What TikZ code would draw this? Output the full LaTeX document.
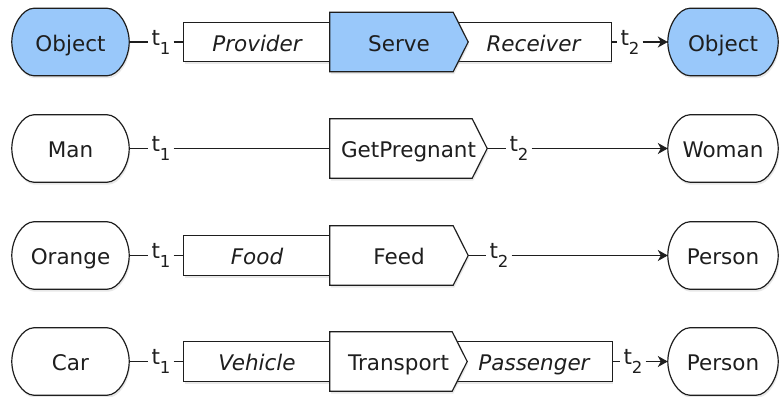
\documentclass[tikz,border=0pt]{standalone}
\usepackage{fontspec}
\setmainfont{DejaVu Sans}
\usetikzlibrary{arrows.meta,shadows,backgrounds}

\definecolor{procblue}{RGB}{153,200,250}
\definecolor{ink}{RGB}{30,30,30}

\newcommand\basefont{\fontsize{21.5pt}{25pt}\selectfont}
% time-index label: t with a lowered index
\newcommand\tlab[1]{t\raisebox{-9pt}{\fontsize{16.5pt}{18pt}\selectfont #1}}

\begin{document}
\begin{tikzpicture}[x=1pt,y=1pt,
  every node/.style={font=\basefont, text=ink, inner sep=0pt},
  termnode/.style={minimum width=117pt, minimum height=67pt, text height=18.7pt, text depth=0pt},
  rolenode/.style={minimum height=39pt, text height=18.7pt, text depth=0pt, font=\basefont\itshape},
  procnode/.style={minimum height=59pt, text height=18.7pt, text depth=0pt},
  timelab/.style={inner xsep=3pt, text height=16pt, text depth=9pt},
  outline/.style={draw=ink, line width=1.2pt,
    drop shadow={opacity=0.18, shadow xshift=1pt, shadow yshift=-2.5pt}},
  conn/.style={draw=ink, line width=1.2pt},
  toarrow/.style={conn, -{Stealth[length=10pt,width=11pt,inset=3pt]}}
]
\useasboundingbox (0,0) rectangle (781,396);

% ---- row 1: Serve ----
\node[termnode] (s1) at (70.5,354) {Object};
\node[timelab] (a1) at (161,354) {\tlab{1}};
\node[rolenode, minimum width=146pt] (r1) at (257,354) {Provider};
\node[procnode, minimum width=138pt] (p1) at (399,354) {Serve};
\node[rolenode, minimum width=155pt] (q1) at (533.5,354) {Receiver};
\node[timelab] (b1) at (630,354) {\tlab{2}};
\node[termnode, minimum width=110pt] (d1) at (723,354) {Object};

% ---- row 2: GetPregnant ----
\node[termnode] (s2) at (70.5,247.5) {Man};
\node[timelab] (a2) at (161,247.5) {\tlab{1}};
\node[procnode, minimum width=157pt] (p2) at (408.5,247.5) {GetPregnant};
\node[timelab] (b2) at (519,247.5) {\tlab{2}};
\node[termnode, minimum width=110pt] (d2) at (723,247.5) {Woman};

% ---- row 3: Feed ----
\node[termnode] (s3) at (70.5,140.5) {Orange};
\node[timelab] (a3) at (161,140.5) {\tlab{1}};
\node[rolenode, minimum width=146pt] (r3) at (257,140.5) {Food};
\node[procnode, minimum width=138pt] (p3) at (399,140.5) {Feed};
\node[timelab] (b3) at (499,140.5) {\tlab{2}};
\node[termnode, minimum width=110pt] (d3) at (723,140.5) {Person};

% ---- row 4: Transport ----
\node[termnode] (s4) at (70.5,34.5) {Car};
\node[timelab] (a4) at (161,34.5) {\tlab{1}};
\node[rolenode, minimum width=146pt] (r4) at (257,34.5) {Vehicle};
\node[procnode, minimum width=137pt] (p4) at (398.5,34.5) {Transport};
\node[rolenode, minimum width=156pt] (q4) at (534,34.5) {Passenger};
\node[timelab] (b4) at (633,34.5) {\tlab{2}};
\node[termnode, minimum width=110pt] (d4) at (723,34.5) {Person};

% ---- shapes behind the labels ----
\begin{scope}[on background layer]
  \fill[white] (0,0) rectangle (781,396);
  % rounded terminal objects: flat top and bottom, rounded ends
  \foreach \n/\c in {s1/procblue,d1/procblue,s2/white,d2/white,s3/white,d3/white,s4/white,d4/white}
    \path[outline, fill=\c]
      ([xshift=22pt]\n.north west) -- ([xshift=-22pt]\n.north east)
      .. controls ([xshift=-11pt]\n.north east) and ([yshift=16.75pt]\n.east) .. (\n.east)
      .. controls ([yshift=-16.75pt]\n.east) and ([xshift=-11pt]\n.south east) .. ([xshift=-22pt]\n.south east)
      -- ([xshift=22pt]\n.south west)
      .. controls ([xshift=11pt]\n.south west) and ([yshift=-16.75pt]\n.west) .. (\n.west)
      .. controls ([yshift=16.75pt]\n.west) and ([xshift=11pt]\n.north west) .. ([xshift=22pt]\n.north west)
      -- cycle;
  % role boxes
  \foreach \n in {r1,q1,r3,r4,q4}
    \path[outline, fill=white] (\n.north west) rectangle (\n.south east);
  % process pentagons
  \foreach \n/\c in {p1/procblue,p2/white,p3/white,p4/white}
    \path[outline, fill=\c]
      (\n.north west) -- ([xshift=-15pt]\n.north east) -- (\n.east)
      -- ([xshift=-15pt]\n.south east) -- (\n.south west) -- cycle;
\end{scope}

% ---- connectors ----
\draw[conn] (s1) -- (a1);
\draw[conn] (a1) -- (r1);
\draw[conn] (q1) -- (b1);
\draw[toarrow] (b1) -- (d1);

\draw[conn] (s2) -- (a2);
\draw[conn] (a2) -- (p2);
\draw[conn] (p2) -- (b2);
\draw[toarrow] (b2) -- (d2);

\draw[conn] (s3) -- (a3);
\draw[conn] (a3) -- (r3);
\draw[conn] (p3) -- (b3);
\draw[toarrow] (b3) -- (d3);

\draw[conn] (s4) -- (a4);
\draw[conn] (a4) -- (r4);
\draw[conn] (q4) -- (b4);
\draw[toarrow] (b4) -- (d4);
\end{tikzpicture}
\end{document}
